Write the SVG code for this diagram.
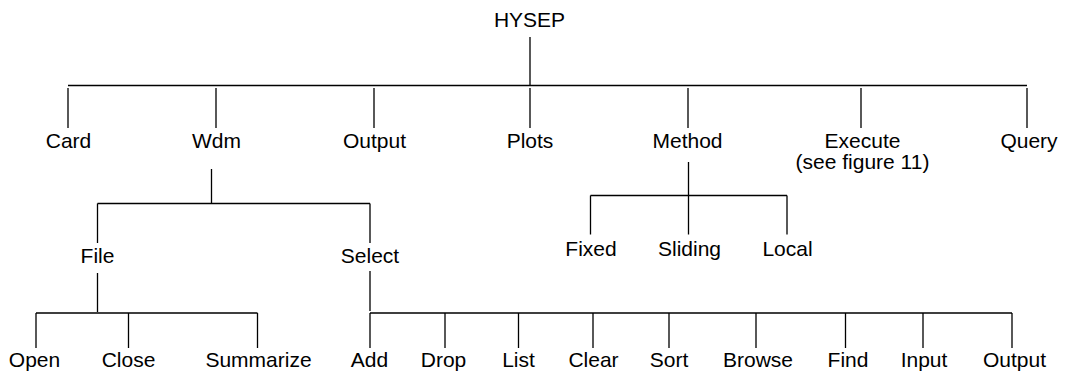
<svg xmlns="http://www.w3.org/2000/svg" width="1073" height="376" viewBox="0 0 1073 376">
  <style>
    .lbl { font-family: "Liberation Sans", Arial, Helvetica, sans-serif; font-size: 21px; fill: #000; text-anchor: middle; }
    .wire { stroke: #000; stroke-width: 1.3; fill: none; }
  </style>
  <rect width="1073" height="376" fill="#fff"/>

  <!-- connectors of the menu tree -->
  <g id="connectors" class="wire">
    <!-- HYSEP to top-level menus -->
    <path d="M530 37 V85.5 M68 85.5 H1027"/>
    <path d="M68 88 V128 M216 88 V128 M374 88 V128 M530 88 V128 M688 88 V128 M861 88 V128 M1027 88 V128"/>
    <!-- Wdm to File / Select -->
    <path d="M211.5 169 V203.5 M97.5 203.5 H370 M97.5 203.5 V243 M370 203.5 V243"/>
    <!-- File to Open / Close / Summarize -->
    <path d="M97.5 273 V312 M36 313 H257.5 M36 313 V348 M128.5 313 V348 M257.5 313 V348"/>
    <!-- Select to its options -->
    <path d="M370 271 V311 M370 313 H1012"/>
    <path d="M370 313 V348 M445 313 V348 M518.5 313 V348 M593 313 V348 M669 313 V348 M756 313 V348 M845.5 313 V348 M923 313 V348 M1012 313 V348"/>
    <!-- Method to Fixed / Sliding / Local -->
    <path d="M688.5 162 V234.5 M590.5 195.5 H787 M590.5 195.5 V234.5 M787 195.5 V234.5"/>
  </g>

  <!-- root -->
  <g id="hysep"><text class="lbl" x="529.5" y="27">HYSEP</text></g>

  <!-- top-level menus -->
  <g id="card"><text class="lbl" x="68.5" y="148">Card</text></g>
  <g id="wdm"><text class="lbl" x="216.5" y="148">Wdm</text></g>
  <g id="output-top"><text class="lbl" x="374.5" y="148">Output</text></g>
  <g id="plots"><text class="lbl" x="530" y="148">Plots</text></g>
  <g id="method"><text class="lbl" x="687.5" y="148">Method</text></g>
  <g id="execute">
    <text class="lbl" x="862.5" y="148">Execute</text>
    <text class="lbl" x="862.5" y="169">(see figure 11)</text>
  </g>
  <g id="query"><text class="lbl" x="1029" y="148">Query</text></g>

  <!-- Wdm submenus -->
  <g id="file"><text class="lbl" x="97.5" y="263">File</text></g>
  <g id="select"><text class="lbl" x="370" y="263">Select</text></g>

  <!-- Method options -->
  <g id="fixed"><text class="lbl" x="591" y="256">Fixed</text></g>
  <g id="sliding"><text class="lbl" x="689.5" y="256">Sliding</text></g>
  <g id="local"><text class="lbl" x="787.5" y="256">Local</text></g>

  <!-- File options -->
  <g id="open"><text class="lbl" x="34.5" y="367">Open</text></g>
  <g id="close"><text class="lbl" x="128.5" y="367">Close</text></g>
  <g id="summarize"><text class="lbl" x="258.5" y="367">Summarize</text></g>

  <!-- Select options -->
  <g id="add"><text class="lbl" x="369.5" y="367">Add</text></g>
  <g id="drop"><text class="lbl" x="443.5" y="367">Drop</text></g>
  <g id="list"><text class="lbl" x="518.5" y="367">List</text></g>
  <g id="clear"><text class="lbl" x="593.5" y="367">Clear</text></g>
  <g id="sort"><text class="lbl" x="669" y="367">Sort</text></g>
  <g id="browse"><text class="lbl" x="758" y="367">Browse</text></g>
  <g id="find"><text class="lbl" x="848" y="367">Find</text></g>
  <g id="input"><text class="lbl" x="924" y="367">Input</text></g>
  <g id="output-select"><text class="lbl" x="1014.5" y="367">Output</text></g>
</svg>
